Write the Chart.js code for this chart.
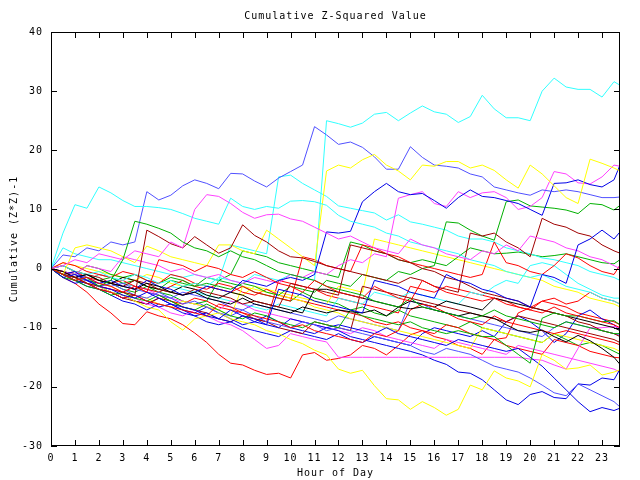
<!DOCTYPE html>
<html>
<head>
<meta charset="utf-8">
<title>Cumulative Z-Squared Value</title>
<script src="https://cdn.jsdelivr.net/npm/chart.js@4.4.1/dist/chart.umd.min.js"></script>
<style>
  html, body { margin: 0; padding: 0; background: #fff; }
  #zChart { display: block; }
</style>
</head>
<body>
<canvas id="zChart" width="640" height="480"></canvas>
<script>
//////////////////////// Data ////////////////////////
// hour of day, every half hour (last sample at 23:45)
const hours = [0, 0.5, 1, 1.5, 2, 2.5, 3, 3.5, 4, 4.5, 5, 5.5, 6, 6.5, 7, 7.5, 8, 8.5, 9, 9.5,
    10, 10.5, 11, 11.5, 12, 12.5, 13, 13.5, 14, 14.5, 15, 15.5, 16, 16.5, 17, 17.5, 18, 18.5, 19, 19.5,
    20, 20.5, 21, 21.5, 22, 22.5, 23, 23.5, 23.75];

const xTicks = [0, 1, 2, 3, 4, 5, 6, 7, 8, 9, 10, 11, 12, 13, 14, 15, 16, 17, 18, 19, 20, 21, 22, 23];
const yTicks = [-30, -20, -10, 0, 10, 20, 30, 40];

// one array per traced line, values of (Z*Z)-1 summed up
const cyanTop = [0, 0.5, -0.5, -1, -0.5, -1.5, -2, -1, -1.5, -2.5, -2, -3, -2.5, -3, -1.5, -2,
    -2.5, -1, -1.5, -2, -1, -1.5, -2, 25, 24.5, 23.9, 24.6, 26.1, 26.4, 25, 26.3, 27.5,
    26.5, 26.1, 24.7, 25.7, 29.3, 27, 25.5, 25.5, 25, 30, 32.2, 30.7, 30.3, 30.3, 29, 31.6, 31];
const blueHigh = [0, 2.3, 2, 3.5, 3, 4.5, 4, 4.5, 13, 11.6, 12.4, 14, 15, 14.4, 13.5, 16.1,
    16, 14.8, 13.8, 15.3, 16.4, 17.5, 24, 22.6, 21, 21.4, 20.5, 18.9, 16.8, 16.8, 20.6, 18.8,
    17.5, 17.3, 17, 16, 15.5, 13.8, 13.3, 12.8, 12.4, 13.3, 13, 13.3, 13, 12.5, 12, 12, 12.1];
const cyanEarly = [0, 6, 10.8, 10.2, 13.8, 12.8, 11.5, 10.5, 10.5, 10.3, 10, 9.3, 8.5, 8, 7.5, 11.9,
    10.5, 10, 10.5, 10.2, 11.4, 11.5, 11.3, 10.7, 9, 8, 7.5, 7, 6, 5.5, 4.5, 4,
    3.5, 3, 2.5, 1.5, 1, 0.5, -0.5, -1, -1.5, -1, -2, -3, -3.5, -4, -5, -5.5, -6];
const cyanMid = [0, 3.5, 2.5, 2, 1.5, 1.5, 1, 0.5, 0, -0.5, -1, -1.5, -1, -1.5, -2, 4,
    3.5, 3, 2.5, 15.5, 15.8, 14.4, 13.3, 12.2, 10.6, 10.2, 9.8, 9.4, 8.2, 9.1, 7.9, 7.5,
    7, 6.5, 5.5, 5, 5, 4.5, 3.5, 3, 2.5, 1.8, 1.5, 1, 0.5, -0.5, -1, -1.5, -2];
const yellowHigh = [0, -1, 3.5, 4, 3.5, 3, 2, 1, 3.8, 3, 2, 1.5, 1, 0.5, 4, 4,
    3, 2.5, 6.5, 5, 3.5, 2, 0.5, 16.5, 17.5, 17, 18.4, 19.3, 17.5, 16.5, 15, 17.5,
    17.3, 18.1, 18.1, 17, 17.5, 16.6, 15, 13.6, 17.5, 16, 14, 12, 11, 18.5, 17.8, 17, 16.5];
const blueRise = [0, -1, -0.5, -2, -2.5, -2, -3, -3.5, -2, -3, -3.5, -4.5, -4, -3, -3.5, -4,
    -2, -2.5, -3, -2, -1.5, -2, -1, 6.2, 6, 6.3, 11.3, 13, 14.4, 13, 12.5, 12.7,
    11.5, 10.2, 12, 13.3, 12.2, 12, 11.5, 11, 10, 9, 14.4, 14.5, 15, 14.2, 13.8, 15, 17.5];
const magentaHigh = [0, -0.5, -1, 0.5, 0, -0.5, 2, 1.5, 1, 0.5, -0.5, 0, -1, -1.5, -1, -2,
    -2.5, -1.5, -2, -2.5, -1, -1.5, -0.5, -1, 0.5, 1.5, 1, 2.5, 2, 11.9, 12.5, 13,
    11, 10.5, 13, 12, 12.8, 13, 12, 10, 10.5, 12, 16.4, 16, 14.5, 14.3, 15.5, 17.5, 17.3];
const magentaEarly = [0, 0.5, 1.5, 1, 2.5, 2, 1.5, 3, 2.5, 2, 4.5, 3.5, 10, 12.5, 12.2, 11,
    9.5, 8.5, 9.1, 9.2, 8.4, 8, 7, 6, 5, 5.5, 4.5, 3.5, 3, 2.5, 5, 4,
    3.5, 2.5, 2, 1.5, 3, 2.5, 4, 3, 5.5, 5, 4.5, 3.5, 3, 2, 1.5, 0.5, 0];
const magentaFlat = [0, -1, -1.5, -2.5, -3, -3.5, -4, -5, -6, -6.5, -7.5, -8, -7, -8, -9, -9.5,
    -10.5, -12, -13.5, -13, -11, -11.5, -12, -12.4, -15, -15, -15, -15, -15, -15, -15, -15,
    -15, -15, -15, -15, -15, -15, -15, -15, -15.3, -15.5, -16.3, -17, -13.5, -10, -10, -9.8, -10];
const yellowLow = [0, -1, -1.5, -2.5, -3, -4, -4.5, -5.5, -6.5, -7, -9, -10.4, -8.5, -8, -7.5, -8.5,
    -9, -9.5, -10.5, -11, -12, -12.7, -13.8, -14.6, -17, -17.7, -17.2, -19.8, -22, -22.2, -23.8, -22.5,
    -23.5, -24.8, -23.8, -19.7, -20.5, -17.3, -18.5, -19, -20, -14.5, -15.5, -17, -16.8, -16.3, -18, -17.5, -17.1];
const redLow = [0, -1.5, -2.5, -4, -6, -7.5, -9.3, -9.5, -7.3, -8, -8.5, -9.5, -10.9, -12.5, -14.5, -16,
    -16.3, -17.2, -17.9, -17.7, -18.5, -14.6, -14.2, -15.5, -15.2, -14.6, -13, -13.5, -14.6, -13, -11.2, -10.5,
    -11.5, -12, -13, -13.5, -14.5, -12, -13, -13.5, -14, -14.5, -12, -12.5, -13, -14, -14.5, -15, -15.1];
const blueLowA = [0, -1, -2, -2.5, -3.5, -4, -5, -4.5, -5.5, -6.5, -6, -7, -8, -7.5, -8.5, -9,
    -8, -9, -9.5, -10, -8.5, -9, -9.5, -10, -9.5, -10, -10.5, -11, -10, -11, -11.5, -12,
    -12.5, -13, -12, -12.5, -13, -13.5, -14, -13.5, -15, -16.5, -18.5, -20.5, -22.5, -24.2, -23.5, -24, -23.6];
const blueLowB = [0, -1.5, -2.5, -2, -3, -4, -4.5, -5.5, -6, -5, -6, -7, -7.5, -6.5, -7.5, -8.5,
    -9.5, -9, -8, -9, -10, -10.5, -11, -10, -10.5, -11.5, -12, -12.5, -13, -13.5, -14, -14.6,
    -15.5, -16.2, -17.5, -17.7, -18.8, -20.5, -22.2, -23, -21.3, -20.8, -21.8, -22, -19.5, -19.7, -18.5, -18.8, -17];
const lightBlueLow = [0, -0.5, -1.5, -2, -3, -2.5, -3.5, -4.5, -5, -4, -5, -6, -5.5, -6.5, -7.5, -8,
    -7, -8, -9, -9.5, -10, -9, -9.5, -10.5, -10, -10.5, -11, -11.5, -12, -12.5, -13, -14,
    -14.5, -13.5, -14, -14.5, -15.5, -16.5, -17, -17.5, -18.5, -19.7, -21, -21.5, -19.5, -20.5, -21.5, -22.5, -23.4];
const blackA = [0, -0.5, -1.5, -1, -2, -2.5, -3, -3.5, -2.5, -3, -4, -4.5, -4, -5, -5.5, -6,
    -5, -6, -6.5, -7, -7.5, -6.5, -7, -7.5, -7, -7.3, -7.5, -7, -8, -6.5, -6.8, -6.5,
    -7, -7.5, -8, -7.5, -8, -8.4, -9.5, -10.5, -10.8, -10.4, -11.5, -12.4, -11.3, -12.2, -13.5, -15, -16.2];
const blackB = [0, -1, -1.5, -1, -2, -2.5, -1.5, -2, -3, -3.5, -4, -3, -3.5, -4.5, -5, -4,
    -4.5, -5.5, -6, -6.5, -7, -7.5, -3.5, -3.5, -4, -4.5, -5, -5.5, -6, -6.5, -5.5, -6,
    -6.5, -5.5, -6, -6.5, -7, -5, -5.5, -6, -6.5, -7, -7.5, -8, -8.5, -9, -9.5, -10, -10.5];
const greenPeak = [0, -1, -2, -1.5, -3, -2, 1.5, 8, 7.5, 6.8, 6, 4.5, 3.5, 3, 2, 3,
    2, 1.5, 0.5, -0.5, -1, -1.5, -2, -3, -3.5, -4, -4.5, -5.5, -6, -6.5, -5, -6.5,
    -7, -7.5, -8, -8.5, -8, -7, -8, -8.5, -9, -9.5, -10, -9, -9.5, -10, -10.5, -11, -11];
const greenDip = [0, -1.5, -2, -3, -3.5, -4.5, -4, -5, -5.5, -4.5, -5.5, -6.5, -7, -6, -7, -8,
    -8.5, -7.5, -8, -9, -9.5, -10, -9, -9.5, -10, -7, -8, -8.5, -9, -9.5, -9, -10,
    -10.5, -11, -10.5, -11, -11.5, -11.5, -13, -14.5, -16, -8.4, -7.5, -8, -8, -8.5, -9, -8.8, -9.5];
const greenLate = [0, -0.5, -1, 0.5, 0, -1, -1.5, -1, -2, -2.5, -1.5, -2, -3, -2.5, -3, -3.5,
    -2.5, -3, -4, -4.5, -3, -3.5, -4, -2, -2.5, -3, -1, -1.5, -2, -0.5, -1, 0,
    0.5, 7.9, 7.7, 6.5, 5.5, 4.8, 11.3, 11.6, 10.6, 10.4, 10.2, 9.9, 9.3, 11, 10.8, 9.9, 10.7];
const greenMid = [0, 0.5, -0.5, -1, -2, -1.5, -2.5, -2, -3, -3.5, -2, -2.5, -3, -1.5, -2, -1,
    3, 2.5, 2, 1, 0.5, 0, -0.5, -1, -1.5, 4.5, 4, 3, 2.5, 1.5, 1, 1.5,
    1, 0.5, 2, 3.5, 3, 2.5, 2.6, 2.8, 2.4, 2, 2.2, 2.5, 2, 1.5, 1, 0.8, 1.5];
const greenLow = [0, -1, -1.5, -2.5, -3, -2.5, -3.5, -4, -3, -4, -4.5, -5.5, -6, -5.5, -2, -2.5,
    -3, -4, -4.5, -5, -5.5, -4, -5, -5.5, -6, -7, -6.5, -7.5, -8, -7, -8, -8.5,
    -9, -9.5, -10, -9, -10, -10.5, -11, -11.5, -12, -12.5, -11, -12, -13, -12.5, -13, -14, -14.5];
const redA = [0, -1, -2, -1.5, -2.5, -3, -4, -3, -4, 1.5, 1, 0.5, -0.5, 0.5, 0, -1,
    -1.5, -0.5, -1.5, -2.5, -3, -4, -2, -3, -4, -4.5, -5, -3, -4, -5, -5.5, -2,
    -3, -4, -4.5, -5, -5.5, -5, -6, -6.5, -7, -7.5, -6.5, -7.5, -8, -8.5, -9, -9.5, -10];
const redB = [0, -0.5, -1.5, -2.5, -3.5, -4, -5, -4.5, -5.5, -6, -6.5, -7, -7.5, -8, -6, -6.5,
    -7.5, -8, -8.5, -9, -10, -9.5, -10.5, -11, -11.5, -12, -12.5, -11, -11.5, -10.5, -7, -6,
    -6.5, -7.5, -8.5, -9, -9.5, -8, -9, -9.5, -10, -10.5, -11, -10.5, -11, -11.5, -12, -12.5, -12.9];
const redC = [0, 1, 0.5, -0.5, -1, -1.5, -0.5, -1, -2, -2.5, -1, -1.5, -2.5, -3, -3.5, -4,
    -3, -4, -4.5, -5, -5.5, 2, 1.5, 0.5, 0, -0.5, 4, 3.5, 2.5, 2, 1, 0.5,
    0, -0.5, -1, -1.5, -1, 4.5, 1, 0.5, -0.5, -1, 0.5, 2.5, 1.8, 0.5, -0.5, -1, 0.6];
const redD = [0, -1, -0.5, -1.5, -2, -2.5, -2, -3, -3.5, -4, -3, -2, -3, -3.5, -2.5, -3,
    -4, -4.5, -3.5, -4.5, -5, -5.5, -6, -6.5, -7, -7.5, -8, -9, -9.5, -9, -10, -10.5,
    -11, -9.5, -10, -11, -11.5, -12, -11.7, -7.5, -6.6, -5.5, -5, -6, -5.5, -4, -5, -5.5, -6];
const redE = [0, -0.5, -1, -2, -1, -1.5, -2.5, -3, -4, -4.5, -5.5, -6, -5, -5.5, -6.5, -7,
    -7.5, -8.5, -9, -2, -2.5, -3, -3.5, -4.5, -5, -5.5, -6, -6.5, -7, -7.5, -3, -3.5,
    -4, -3, -3.5, -4, -4.5, -5, -5.5, -6.5, -7, -5.5, -6, -6.5, -7.5, -8, -8.5, -9, -9.5];
const darkRedA = [0, -1, -1.5, -2.5, -3, -3.5, -4, -4.5, 6.5, 5.4, 4.2, 3.5, 5.4, 4, 2.6, 3.5,
    7.4, 5.6, 4.5, 3, 2, 1.8, 1.2, 0.5, 0, -0.5, -1, -1.5, -2, -2.5, -1.5, -2,
    -3, -3.5, -4, 6, 5.5, 6, 4.5, 3.5, 2, 8.5, 7.5, 7, 6, 5.5, 4, 3, 2.6];
const darkRedB = [0, 0.5, -0.5, -1, -1.5, -2.5, -3, -2, -2.5, -3.5, -4, -4.5, -3.5, -4, -4.5, -5,
    -6, -5.5, -6, -6.5, -2.5, -3, -3.5, -4, -4.5, 4, 3.5, 3, 2.5, 1.5, 1, 0,
    -0.5, -1.5, -2, -3, -4, -4.5, -5, -5.5, -6.5, -7, -7.5, -8, -9, -9.5, -10.5, -11, -11.5];
const darkRedC = [0, -1, -2, -2.5, -3.5, -4, -5, -5.5, -6, -5, -5.5, -6.5, -7, -7.5, -8.5, -9,
    -8, -8.5, -9, -10, -10.5, -11, -9, -9.5, -10, -10.5, -3, -3.5, -4, -4.5, -5, -5.5,
    -6, -6.5, -7, -7.5, -8, -8.5, -9, -8, -8.5, -9, -9.5, -10, -10.5, -11, -11.5, -12, -12.5];
const blueMidA = [0, -1.5, -1, -2, -3, -3.5, -4.5, -5, -4, -5, -6, -6.5, -7, -8, -8.5, -7,
    -8, -8.5, -9.5, -3.5, -4, -4.5, -5.5, -6, -6.5, -7, -7.5, -2, -2.5, -3, -4, -4.5,
    -5, -1, -2, -2.5, -3.5, -4, -5, -5.5, -6.5, -1, -1.5, -2.5, 4, 5, 6.5, 5, 6.2];
const blueMidB = [0, -1, -2, -3, -3.5, -4.5, -5.5, -6, -7, -6, -6.5, -7.5, -8, -9, -9.5, -9,
    -10, -10.5, -11, -11.5, -10.5, -11, -11.5, -12, -11, -12, -12.5, -11.5, -12, -12.5, -13, -11,
    -10, -10.5, -11, -11.5, -10.5, -11.5, -9, -8, -9, -10.5, -12.5, -11, -8, -7, -8.5, -9.5, -10.5];
const lightBlueMid = [0, -0.5, -1, -1.5, -2.5, -3, -2.5, -3.5, -4, -4.5, -5, -4, -4.5, -5, -5.5, -6.5,
    -7, -6, -6.5, -7, -7.5, -8, -8.5, -9, -8, -8.5, -9, -9.5, -10, -10.5, -5.5, -6,
    -7, -7.5, -8, -8.5, -9, -9.5, -10, -10.5, -11, -11.5, -10, -9, -9.5, -10, -10.5, -11, -11.3];
const yellowMid = [0, -0.5, -1.5, -2, -2.5, -3, -4, -4.5, -5, -6, -6.5, -5.5, -6, -6.5, -7, -8,
    -3, -3.5, -4, -4.5, -5, -5.5, -6.5, -7, -7.5, -8.5, -9, -9.5, -10, -10.5, -11, -11.5,
    -12, -12.5, -13, -13.5, -10, -10.5, -11, -11.5, -12, -12.5, -11, -11.5, -12, -12.5, -13, -13.5, -14];
const yellowUp = [0, 1, 0.5, 0, -0.5, -1, -1.5, -2, -1, -1.5, -2.5, -3, -2.5, -3, -3.5, -4,
    -4.5, -3, -3.5, -4, -4.5, -5, -5.5, -6, -3, -3.5, -4, 5, 4.5, 4, 3.5, 3,
    2.5, 2, 1.5, 1, 0.5, 0, -0.5, -1, -1.5, -2, -3, -3.5, -4, -5, -5.5, -6, -6.5];
const magentaLow = [0, -0.5, -1.5, -2, -3, -3.5, -4, -3, -3.5, -4.5, -5, -5.5, -6, -6.5, -7, -5.5,
    -6, -7, -7.5, -8, -8.5, -9, -9.5, -10, -10.5, -11, -10, -10.5, -11.5, -12, -12.5, -13,
    -13.5, -12, -12.5, -13, -13.5, -14, -14.5, -13, -13.5, -14, -14.5, -15, -15.5, -16, -16.5, -17, -17.5];
const cyanLow = [0, -1, -1.5, -2, -1, -1.5, -2.5, -3, -3.5, -4, -3, -3.5, -4, -4.5, -5, -5.5,
    -6, -6.5, -7, -6, -6.5, -7, -7.5, -8, -5, -5.5, -6, -4, -4.5, -5, -4, -4.5,
    -5, -5.5, -6, -4, -4.5, -3, -2, -2.5, 0.5, 1, 0.5, -1, -2.5, -3.5, -4.5, -5, -5];

//////////////////////// Styles ////////////////////////
const palette = {
    red: '#ff0000',
    green: '#00b000',
    blue: '#0000e8',
    magenta: '#ff40ff',
    cyan: '#30ffff',
    darkred: '#a00000',
    yellow: '#ffff00',
    black: '#000000',
    lightblue: '#5050ff'
};

// which line gets which pen, in drawing order
const lines = [
    [redA, 'red'], [greenPeak, 'green'], [blueMidA, 'blue'], [magentaEarly, 'magenta'], [cyanEarly, 'cyan'],
    [darkRedA, 'darkred'], [yellowHigh, 'yellow'], [blackA, 'black'], [blueHigh, 'lightblue'],
    [redB, 'red'], [greenDip, 'green'], [blueRise, 'blue'], [magentaHigh, 'magenta'], [cyanTop, 'cyan'],
    [darkRedB, 'darkred'], [yellowLow, 'yellow'], [blackB, 'black'], [lightBlueLow, 'lightblue'],
    [redC, 'red'], [greenLate, 'green'], [blueLowA, 'blue'], [magentaFlat, 'magenta'], [cyanMid, 'cyan'],
    [darkRedC, 'darkred'], [yellowMid, 'yellow'], [lightBlueMid, 'lightblue'],
    [redD, 'red'], [greenMid, 'green'], [blueLowB, 'blue'], [magentaLow, 'magenta'], [cyanLow, 'cyan'],
    [yellowUp, 'yellow'], [redLow, 'red'], [greenLow, 'green'], [blueMidB, 'blue'], [redE, 'red']
];

const FONT = '"DejaVu Sans Mono", "Liberation Mono", monospace';

//////////////////////// Chart ////////////////////////
// gnuplot-like frame: border on all four sides, ticks pointing inwards, titles centred on the plot
const gnuFrame = {
    id: 'gnuFrame',
    beforeDraw(chart) {
        chart.ctx.letterSpacing = '1px';
    },
    afterDatasetsDraw(chart) {
        const { ctx, chartArea: a, scales: { x, y } } = chart;
        ctx.save();
        ctx.strokeStyle = '#000';
        ctx.lineWidth = 1;
        ctx.strokeRect(a.left + 0.5, a.top + 0.5, a.right - a.left - 1, a.bottom - a.top - 1);
        ctx.beginPath();
        x.ticks.forEach(t => {
            const px = Math.round(x.getPixelForValue(t.value)) + 0.5;
            ctx.moveTo(px, a.bottom); ctx.lineTo(px, a.bottom - 6);
            ctx.moveTo(px, a.top); ctx.lineTo(px, a.top + 6);
        });
        y.ticks.forEach(t => {
            const py = Math.round(y.getPixelForValue(t.value)) + 0.5;
            ctx.moveTo(a.left, py); ctx.lineTo(a.left + 6, py);
            ctx.moveTo(a.right, py); ctx.lineTo(a.right - 6, py);
        });
        ctx.stroke();

        ctx.fillStyle = '#000';
        ctx.font = '10px ' + FONT;
        ctx.letterSpacing = '1px';
        ctx.textAlign = 'center';
        ctx.textBaseline = 'middle';
        const cx = (a.left + a.right) / 2;
        ctx.fillText('Cumulative Z-Squared Value', cx, 16);
        ctx.fillText('Hour of Day', cx, 473);
        ctx.translate(14, (a.top + a.bottom) / 2);
        ctx.rotate(-Math.PI / 2);
        ctx.fillText('Cumulative (Z*Z)-1', 0, 0);
        ctx.restore();
    }
};

document.addEventListener('DOMContentLoaded', () => {
    const datasets = lines.map(([vals, pen], i) => ({
        label: 'line ' + (i + 1),
        data: hours.map((h, k) => ({ x: h, y: vals[k] })),
        borderColor: palette[pen],
        borderWidth: 1,
        pointRadius: 0,
        tension: 0,
        fill: false
    }));

    const config = {
        type: 'line',
        data: { datasets: datasets },
        options: {
            responsive: false,
            animation: false,
            events: [],
            layout: { padding: { left: 0, right: 20, top: 32, bottom: 0 } },
            plugins: {
                legend: { display: false },
                title: { display: false },
                tooltip: { enabled: false }
            },
            scales: {
                x: {
                    type: 'linear',
                    min: 0,
                    max: 23.75,
                    grid: { display: false, drawTicks: false },
                    border: { display: false },
                    afterFit: (scale) => { scale.height = 34; },
                    afterBuildTicks: (scale) => { scale.ticks = xTicks.map(v => ({ value: v })); },
                    ticks: {
                        autoSkip: false,
                        maxRotation: 0,
                        padding: 6,
                        color: '#000',
                        font: { family: FONT, size: 10 }
                    }
                },
                y: {
                    min: -30,
                    max: 40,
                    grid: { display: false, drawTicks: false },
                    border: { display: false },
                    afterFit: (scale) => { scale.width = 51; },
                    afterBuildTicks: (scale) => { scale.ticks = yTicks.map(v => ({ value: v })); },
                    ticks: {
                        padding: 8,
                        color: '#000',
                        font: { family: FONT, size: 10 }
                    }
                }
            }
        },
        plugins: [gnuFrame]
    };

    const ctx = document.getElementById('zChart').getContext('2d');
    new Chart(ctx, config);
});
</script>
</body>
</html>
